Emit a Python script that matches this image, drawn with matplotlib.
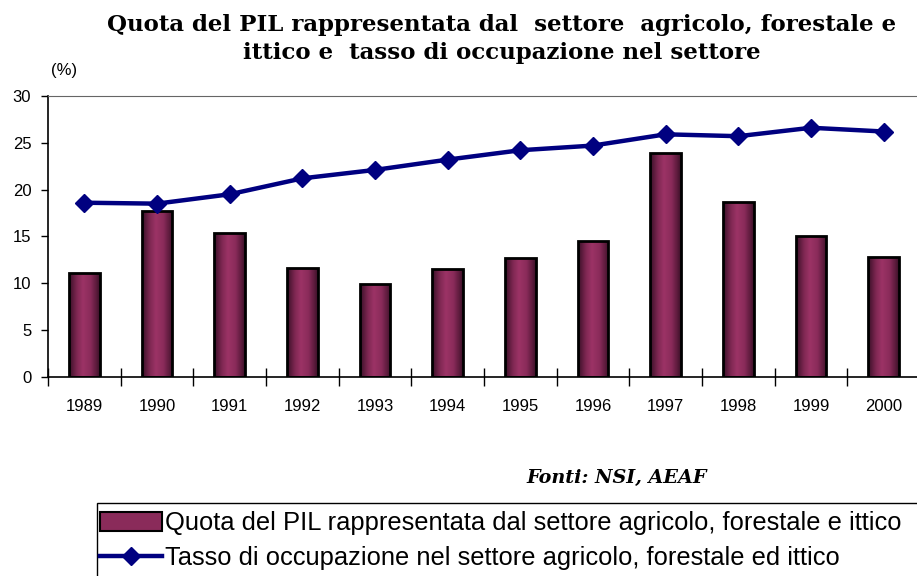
import numpy as np
import matplotlib
matplotlib.use("Agg")
import matplotlib.pyplot as plt
from matplotlib.colors import LinearSegmentedColormap
from matplotlib.lines import Line2D
from matplotlib.patches import Patch, Rectangle


# ------------------------------------------------------------
# Dati
# ------------------------------------------------------------
anni = ["1989", "1990", "1991", "1992", "1993", "1994",
        "1995", "1996", "1997", "1998", "1999", "2000"]
quota_pil = [11.1, 17.7, 15.4, 11.6, 9.9, 11.5, 12.7, 14.5, 23.9, 18.7, 15.1, 12.8]
tasso_occupazione = [18.6, 18.5, 19.5, 21.2, 22.1, 23.2, 24.2, 24.7, 25.9, 25.7, 26.6, 26.2]

titolo = ("Quota del PIL rappresentata dal  settore  agricolo, forestale e\n"
          "ittico e  tasso di occupazione nel settore")
etichetta_barre = "Quota del PIL rappresentata dal settore agricolo, forestale e ittico"
etichetta_linea = "Tasso di occupazione nel settore agricolo, forestale ed ittico"
fonte = "Fonti: NSI, AEAF"

plt.rcParams["font.family"] = ["Liberation Sans", "DejaVu Sans"]

# sfumatura "cilindrica" delle barre
cmap_barre = LinearSegmentedColormap.from_list(
    "bordeaux", [(0.0, "#3a1027"), (0.25, "#7e2752"), (0.45, "#9c3366"),
                 (0.7, "#8a2b5a"), (0.9, "#5a1a3b"), (1.0, "#3a1027")])

fig = plt.figure(figsize=(9.17, 5.76), dpi=100)
ax = fig.add_axes([0.0523, 0.3455, 0.951, 0.488])

x = np.arange(len(anni))

# ------------------------------------------------------------
# Barre con gradiente
# ------------------------------------------------------------
barre = ax.bar(x, quota_pil, width=0.42, facecolor="none",
               edgecolor="black", linewidth=2, zorder=3)
grad = np.linspace(0, 1, 64).reshape(1, -1)
for rect in barre:
    x0, y0 = rect.get_x(), rect.get_y()
    w, h = rect.get_width(), rect.get_height()
    im = ax.imshow(grad, cmap=cmap_barre, aspect="auto", interpolation="bicubic",
                   extent=(x0, x0 + w, y0, y0 + h), zorder=2)
    im.set_clip_path(rect)

# ------------------------------------------------------------
# Linea tasso di occupazione
# ------------------------------------------------------------
ax.plot(x, tasso_occupazione, color="#000080", linewidth=3.2,
        marker="D", markersize=9, zorder=4, clip_on=False)

# ------------------------------------------------------------
# Assi
# ------------------------------------------------------------
ax.set_xlim(-0.5, len(anni) - 0.5)
ax.set_ylim(0, 30)
ax.set_yticks(range(0, 31, 5))
ax.tick_params(axis="y", direction="out", length=5, width=1, pad=7, labelsize=12)

ax.set_xticks(x)
ax.set_xticklabels(anni)
ax.set_xticks(np.arange(-0.5, len(anni)), minor=True)
ax.tick_params(axis="x", which="major", length=0, pad=16, labelsize=12)
ax.tick_params(axis="x", which="minor", direction="inout", length=13, width=1)

ax.spines["right"].set_visible(False)
ax.spines["top"].set_color("#666666")
ax.spines["left"].set_linewidth(1.2)
ax.spines["bottom"].set_linewidth(1.2)

fig.text(0.056, 0.878, "(%)", fontsize=12, ha="left", va="center")

# ------------------------------------------------------------
# Titolo e fonte
# ------------------------------------------------------------
fig.text(0.547, 0.933, titolo, family="DejaVu Serif", fontweight="bold",
         fontsize=16.5, ha="center", va="center", linespacing=1.35)
fig.text(0.673, 0.17, fonte, family="DejaVu Serif", fontweight="bold",
         fontstyle="italic", fontsize=13.8, ha="center", va="center")

# ------------------------------------------------------------
# Legenda (cornice che esce dal bordo della figura)
# ------------------------------------------------------------
fig.patches.append(Rectangle((0.106, -0.05), 1.0, 0.177, transform=fig.transFigure,
                             facecolor="white", edgecolor="black", linewidth=1))
handles = [
    Patch(facecolor="#8a2b5a", edgecolor="black", linewidth=1.5),
    Line2D([0], [0], color="#000080", linewidth=3.2, marker="D", markersize=9),
]
leg = fig.legend(handles, [etichetta_barre, etichetta_linea],
                 loc="upper left", bbox_to_anchor=(0.106, 0.117),
                 fontsize=18.4, frameon=False, borderpad=0.1, handlelength=2.45,
                 handleheight=0.75, handletextpad=0.1, labelspacing=0.42,
                 borderaxespad=0)

fig.savefig("out.png", dpi=100)
